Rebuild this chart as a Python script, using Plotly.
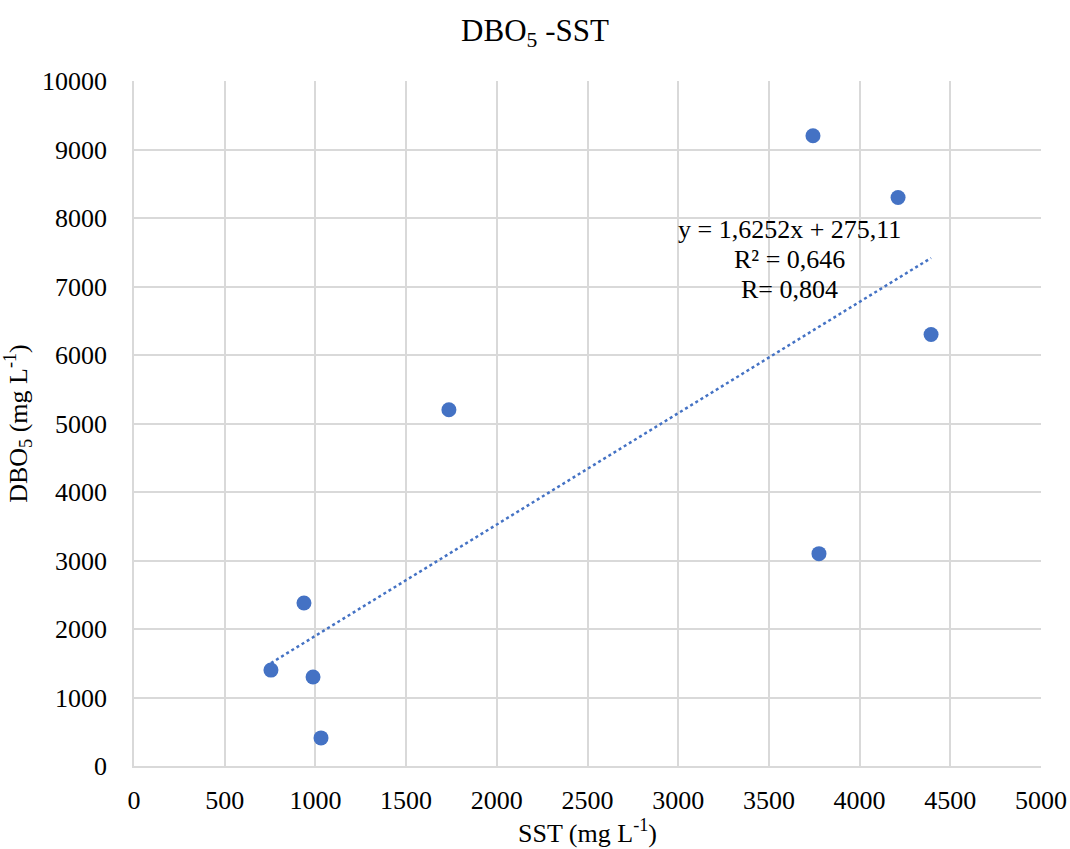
import plotly.graph_objects as go

sst = [755, 937, 987, 1031, 1736, 3743, 3776, 4212, 4394]
dbo5 = [1400, 2380, 1300, 410, 5200, 9200, 3100, 8300, 6300]
slope = 1.6252
intercept = 275.11
x_ticks = [0, 500, 1000, 1500, 2000, 2500, 3000, 3500, 4000, 4500, 5000]
y_ticks = [0, 1000, 2000, 3000, 4000, 5000, 6000, 7000, 8000, 9000, 10000]
eq_lines = ["y = 1,6252x + 275,11", "R² = 0,646", "R= 0,804"]

blue = "#4472C4"
font = "Liberation Serif, Times New Roman, serif"
grid = "#d9d9d9"

tx = [min(sst), max(sst)]
ty = [slope * v + intercept for v in tx]

fig = go.Figure()
fig.add_trace(go.Scatter(x=tx, y=ty, mode="lines",
                         line=dict(color=blue, width=2.5, dash="dot"),
                         hoverinfo="skip", showlegend=False))
fig.add_trace(go.Scatter(x=sst, y=dbo5, mode="markers",
                         marker=dict(color=blue, size=15),
                         showlegend=False))

for i, t in enumerate(eq_lines):
    fig.add_annotation(x=3616, y=7825 - i * 438, xref="x", yref="y",
                       text=t, showarrow=False, xanchor="center", yanchor="middle",
                       font=dict(family=font, size=26, color="#000"))

fig.update_layout(
    width=1070, height=849,
    margin=dict(l=134, r=29, t=81, b=83, autoexpand=False),
    paper_bgcolor="white", plot_bgcolor="white",
    font=dict(family=font, size=26, color="#000"),
    title=dict(text="DBO<sub>5</sub> -SST", x=0.5, xanchor="center",
               y=0.965, yanchor="middle", font=dict(family=font, size=31, color="#000")),
)
fig.update_xaxes(range=[0, 5000], tickvals=x_ticks, ticktext=[str(v) for v in x_ticks],
                 showgrid=True, gridcolor=grid, gridwidth=1.5, showline=True,
                 linecolor=grid, linewidth=1.5, zeroline=False, automargin=False,
                 ticks="", ticklabelstandoff=10,
                 tickfont=dict(family=font, size=26, color="#000"),
                 title=dict(text="SST (mg L<sup>-1</sup>)",
                            font=dict(family=font, size=26, color="#000"), standoff=8))
fig.update_yaxes(range=[0, 10000], tickvals=y_ticks, ticktext=[str(v) for v in y_ticks],
                 showgrid=True, gridcolor=grid, gridwidth=1.5, showline=True,
                 linecolor=grid, linewidth=1.5, zeroline=False, automargin=False,
                 ticks="", ticklabelstandoff=20,
                 tickfont=dict(family=font, size=26, color="#000"),
                 title=dict(text="DBO<sub>5</sub> (mg L<sup>-1</sup>)",
                            font=dict(family=font, size=26, color="#000"), standoff=8))

fig.write_html("out.html")
